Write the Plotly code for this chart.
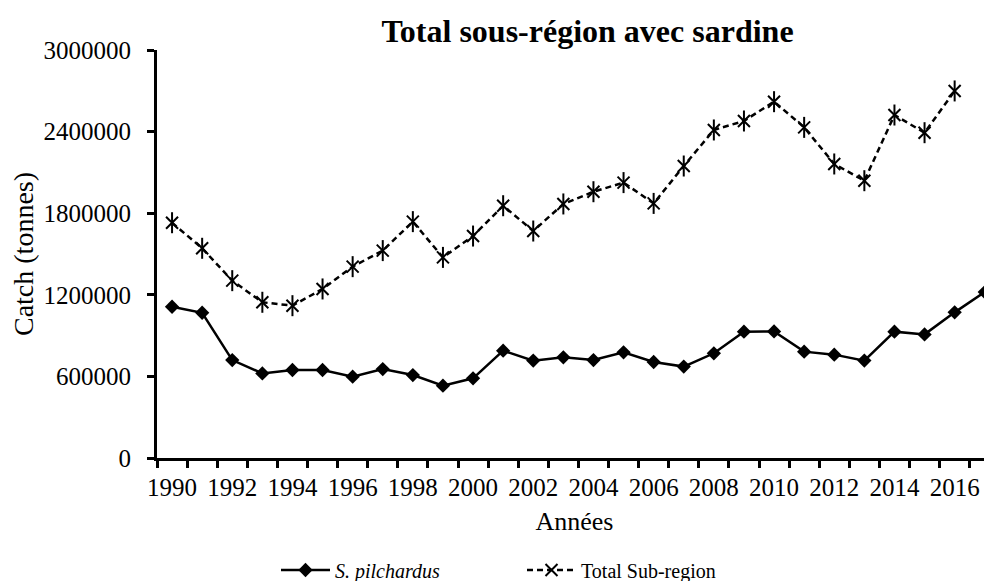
import plotly.graph_objects as go

years = list(range(1990, 2018))
pilchardus = [1112000, 1068000, 720000, 622000, 647000, 647000, 598000, 654000, 610000, 532000,
              586000, 789000, 716000, 740000, 720000, 777000, 706000, 672000, 770000, 929000,
              931000, 782000, 760000, 716000, 929000, 909000, 1071000, 1220000]
total_years = list(range(1990, 2017))
total = [1730000, 1542000, 1304000, 1145000, 1120000, 1243000, 1407000, 1525000, 1738000, 1475000,
         1632000, 1855000, 1669000, 1868000, 1958000, 2025000, 1872000, 2147000, 2412000, 2478000,
         2620000, 2431000, 2162000, 2039000, 2522000, 2392000, 2699000]
y_ticks = [0, 600000, 1200000, 1800000, 2400000, 3000000]
x_label_years = list(range(1990, 2017, 2))

FONT = "Liberation Serif, Times New Roman, serif"

# page body has an 8px margin, so the figure is drawn at (8, 8)
W, H = 984, 573
ML, MT, MB = 149, 42, 123
PW = W - ML          # plot width in px
PH = H - MT - MB     # plot height in px

fig = go.Figure()
fig.add_trace(go.Scatter(
    x=years, y=pilchardus, mode="lines+markers", name="<i>S. pilchardus</i>",
    line=dict(color="black", width=2.5),
    marker=dict(symbol="diamond", size=11, color="black"),
))
fig.add_trace(go.Scatter(
    x=total_years, y=total, mode="lines+markers", name="Total Sub-region",
    legendgroup="tot",
    line=dict(color="black", width=2.5, dash="6px,4px"),
    marker=dict(symbol="x-thin-open", size=12, color="black", line=dict(width=2, color="black")),
))
fig.add_trace(go.Scatter(
    x=total_years, y=total, mode="markers", showlegend=False, legendgroup="tot",
    marker=dict(symbol="line-ns-open", size=15, color="black", line=dict(width=2, color="black")),
))

fig.update_layout(
    width=W, height=H,
    margin=dict(l=ML, r=0, t=MT, b=MB, pad=0, autoexpand=False),
    paper_bgcolor="white", plot_bgcolor="white",
    font=dict(family=FONT, color="black", size=25),
    title=dict(text="<b>Total sous-région avec sardine</b>", font=dict(size=32, family=FONT),
               x=(587.5 - 157) / 835, xref="paper", xanchor="center",
               y=1 - 23 / H, yref="container", yanchor="middle"),
    showlegend=True,
    legend=dict(orientation="h", x=(276 - 157) / 835, xanchor="left",
                y=(458 - 570) / 408, yanchor="middle",
                font=dict(size=20, family=FONT), bgcolor="rgba(0,0,0,0)",
                itemwidth=49, entrywidth=182, entrywidthmode="pixels"),
)
fig.update_xaxes(
    range=[1989.5, 1989.5 + PW / 30.1],
    tickmode="array", tickvals=x_label_years, ticktext=[str(v) for v in x_label_years],
    ticks="", ticklabelstandoff=5,
    showline=True, linewidth=3, linecolor="black", showgrid=False, zeroline=False,
    tickfont=dict(size=25),
    minor=dict(tickmode="array", tickvals=[y - 0.5 for y in years] + [2017.5],
               ticks="outside", ticklen=7, tickwidth=3, tickcolor="black", showgrid=False),
    title=dict(text="Années", font=dict(size=26), standoff=12),
)
fig.update_yaxes(
    range=[0, 3000000], tickmode="array", tickvals=y_ticks, tickformat="d",
    ticks="outside", ticklen=7, tickwidth=3, tickcolor="black", ticklabelstandoff=11,
    showline=True, linewidth=3, linecolor="black", showgrid=False, zeroline=False,
    tickfont=dict(size=25),
    title=dict(text="Catch (tonnes)", font=dict(size=28), standoff=8),
)

fig.write_html("out.html")
